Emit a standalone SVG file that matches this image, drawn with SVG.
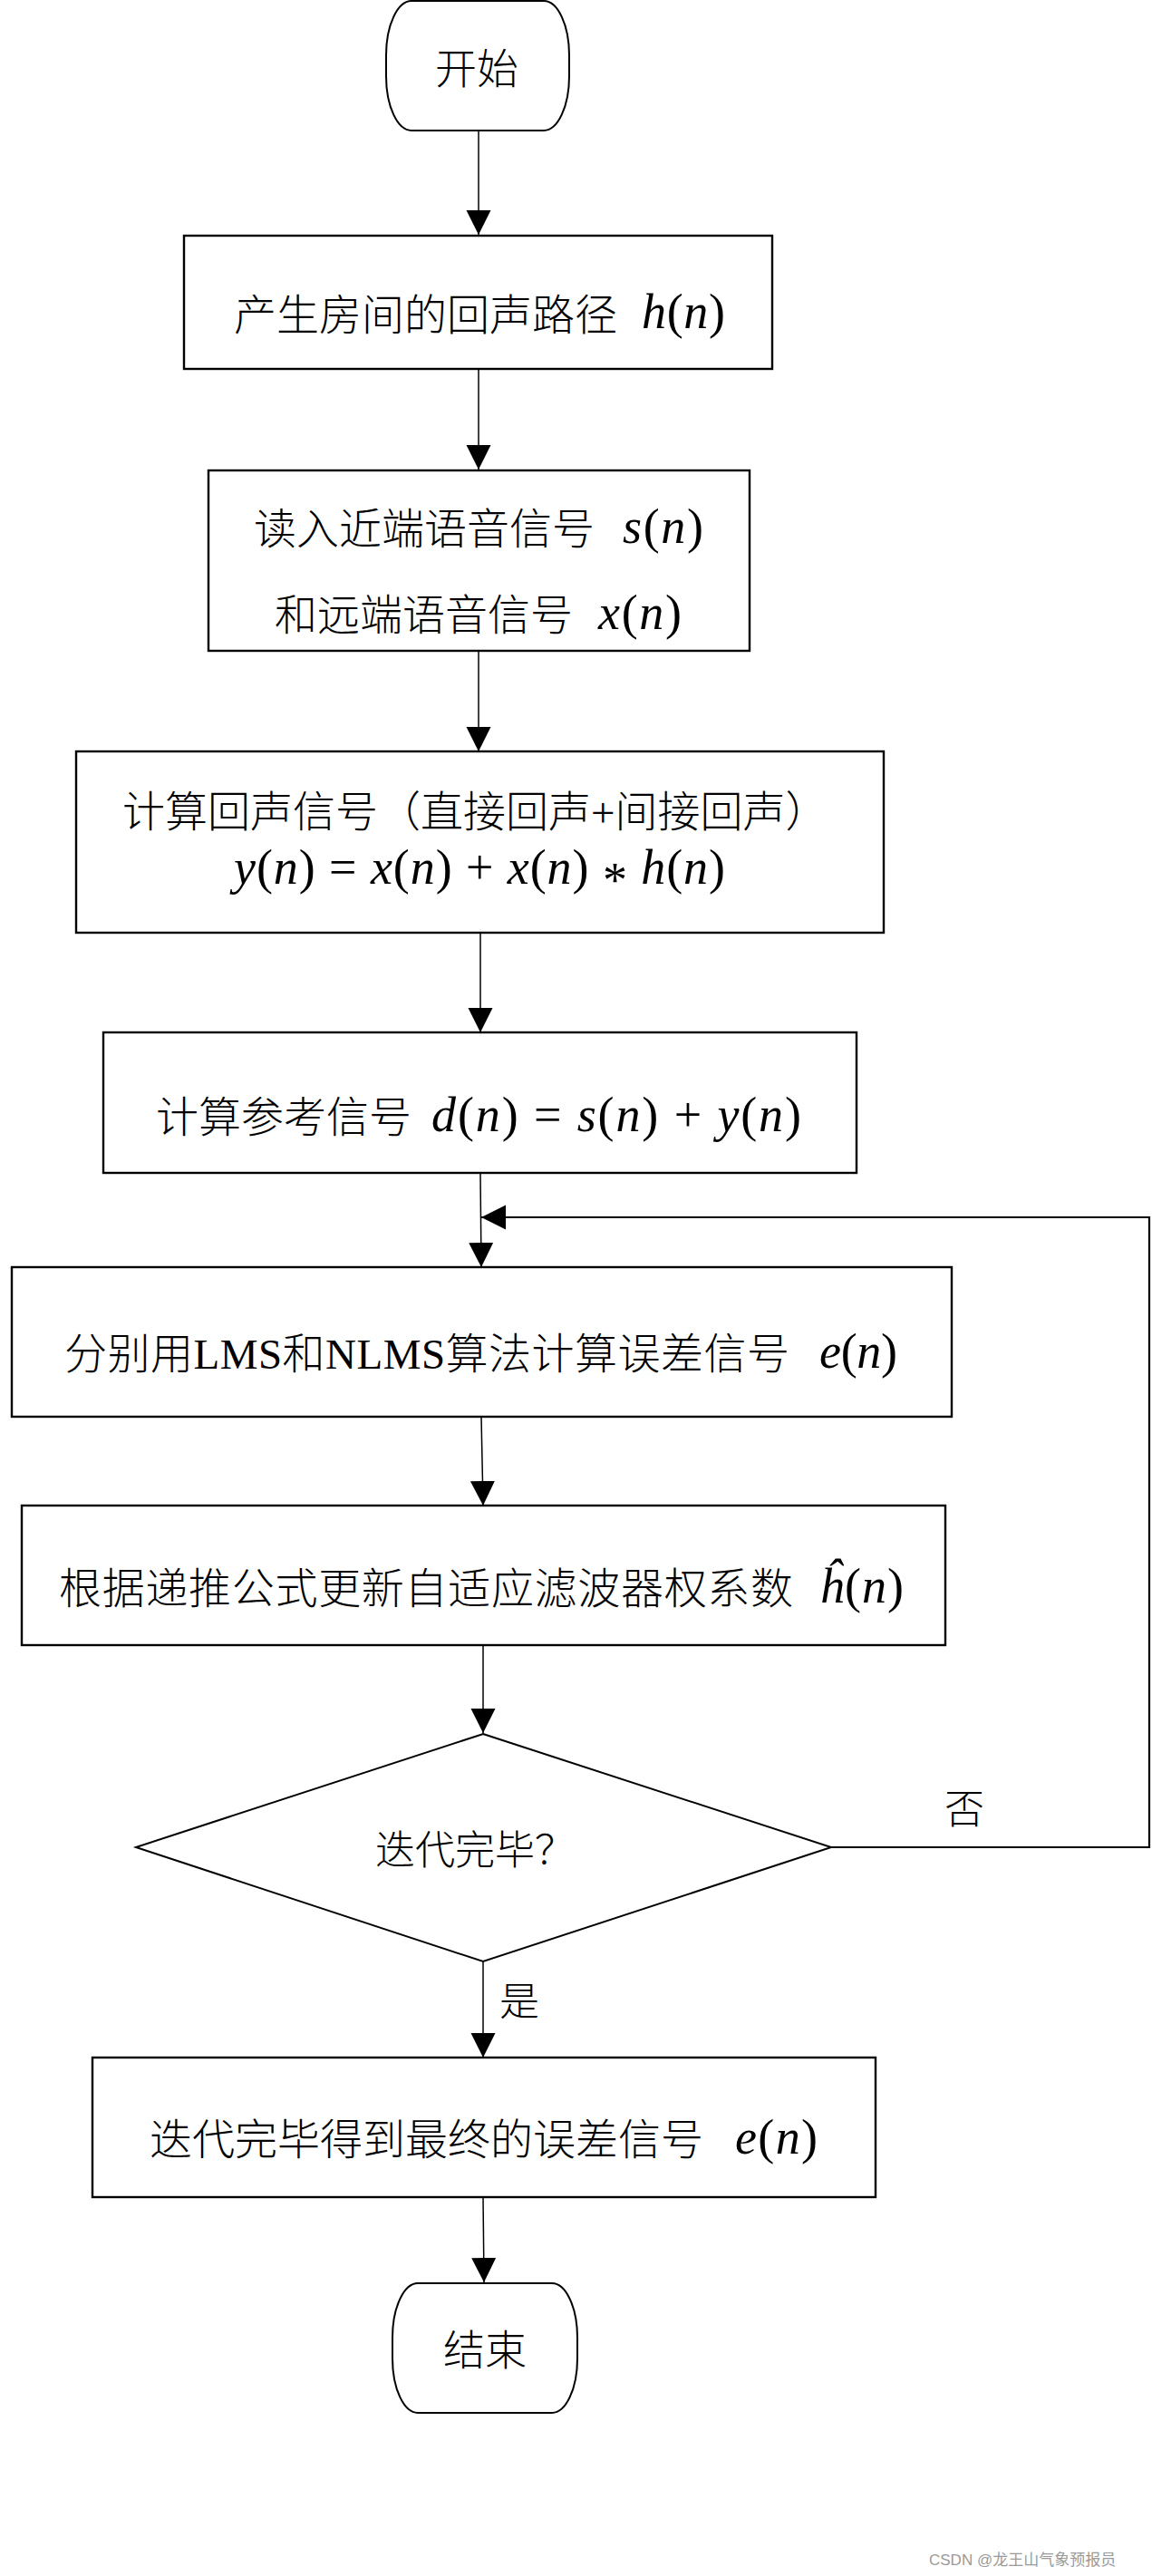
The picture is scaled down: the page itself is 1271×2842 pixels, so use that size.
<svg xmlns="http://www.w3.org/2000/svg" width="1271" height="2842" viewBox="0 0 1271 2842">
<style>
.box{fill:#fff;stroke:#000;stroke-width:2.4}
.term{fill:#fff;stroke:#000;stroke-width:2}
.con{fill:none;stroke:#000;stroke-width:1.5}
.loop{fill:none;stroke:#000;stroke-width:2.2}
.t{font-family:"Liberation Serif","Noto Sans CJK SC",serif;font-size:47px;font-weight:300;fill:#000}
.m{font-family:"Liberation Serif",serif;font-size:54px;fill:#000}
.i{font-style:italic}
.wm{font-family:"Liberation Sans","Noto Sans CJK SC",sans-serif;font-size:17px;fill:#9a9a9a}
</style>
<defs>
<marker id="arr" markerUnits="userSpaceOnUse" markerWidth="28" markerHeight="28" refX="27" refY="13.5" orient="auto">
<path d="M0,0 L27,13.5 L0,27 Z" fill="#000"/>
</marker>
</defs>
<rect width="1271" height="2842" fill="#fff"/>

<g id="connectors">
<line class="con" x1="528" y1="145" x2="528" y2="259" marker-end="url(#arr)"/>
<line class="con" x1="528" y1="408" x2="528" y2="518" marker-end="url(#arr)"/>
<line class="con" x1="528" y1="718" x2="528" y2="829" marker-end="url(#arr)"/>
<line class="con" x1="530" y1="1030" x2="530" y2="1139" marker-end="url(#arr)"/>
<line class="con" x1="530" y1="1295" x2="531" y2="1398" marker-end="url(#arr)"/>
<line class="con" x1="531" y1="1563" x2="533" y2="1661" marker-end="url(#arr)"/>
<line class="con" x1="533" y1="1815" x2="533" y2="1912" marker-end="url(#arr)"/>
<line class="con" x1="533" y1="2164" x2="533" y2="2270" marker-end="url(#arr)"/>
<line class="con" x1="533" y1="2424" x2="534" y2="2518" marker-end="url(#arr)"/>
<polyline class="loop" points="917,2038 1268,2038 1268,1343 531,1343" marker-end="url(#arr)"/>
<text class="t" x="1042" y="2012" style="font-size:44px">否</text>
<text class="t" x="551" y="2224" style="font-size:44px">是</text>
</g>

<g id="start">
<rect class="term" x="426" y="1" width="202" height="143" rx="28" ry="60"/>
<text class="t" x="480" y="92" style="font-size:46px">开始</text>
</g>

<g id="box1">
<rect class="box" x="203" y="260" width="649" height="147"/>
<text class="t" x="258" y="364">产生房间的回声路径</text>
<text class="m" x="708" y="362" textLength="92" lengthAdjust="spacing"><tspan class="i">h</tspan>(<tspan class="i">n</tspan>)</text>
</g>

<g id="box2">
<rect class="box" x="230" y="519" width="597" height="199"/>
<text class="t" x="280" y="600">读入近端语音信号</text>
<text class="m" x="687" y="599" textLength="89" lengthAdjust="spacing"><tspan class="i">s</tspan>(<tspan class="i">n</tspan>)</text>
<text class="t" x="303" y="695">和远端语音信号</text>
<text class="m" x="660" y="694" textLength="92" lengthAdjust="spacing"><tspan class="i">x</tspan>(<tspan class="i">n</tspan>)</text>
</g>

<g id="box3">
<rect class="box" x="84" y="829" width="891" height="200"/>
<text class="t" x="135" y="912">计算回声信号（直接回声+间接回声）</text>
<text class="m" x="258" y="975" textLength="542" lengthAdjust="spacing"><tspan class="i">y</tspan>(<tspan class="i">n</tspan>) = <tspan class="i">x</tspan>(<tspan class="i">n</tspan>) + <tspan class="i">x</tspan>(<tspan class="i">n</tspan>) <tspan dy="14">*</tspan> <tspan dy="-14" class="i">h</tspan>(<tspan class="i">n</tspan>)</text>
</g>

<g id="box4">
<rect class="box" x="114" y="1139" width="831" height="155"/>
<text class="t" x="172" y="1249">计算参考信号</text>
<text class="m" x="476" y="1248" textLength="408" lengthAdjust="spacing"><tspan class="i">d</tspan>(<tspan class="i">n</tspan>) = <tspan class="i">s</tspan>(<tspan class="i">n</tspan>) + <tspan class="i">y</tspan>(<tspan class="i">n</tspan>)</text>
</g>

<g id="box5">
<rect class="box" x="13" y="1398" width="1037" height="165"/>
<text class="t" x="71" y="1510" textLength="800" lengthAdjust="spacing">分别用LMS和NLMS算法计算误差信号</text>
<text class="m" x="904" y="1509" textLength="86" lengthAdjust="spacing"><tspan class="i">e</tspan>(<tspan class="i">n</tspan>)</text>
</g>

<g id="box6">
<rect class="box" x="24" y="1661" width="1019" height="154"/>
<text class="t" x="65" y="1769" textLength="810" lengthAdjust="spacing">根据递推公式更新自适应滤波器权系数</text>
<text class="m" x="904" y="1768" textLength="93" lengthAdjust="spacing"><tspan class="i">ĥ</tspan>(<tspan class="i">n</tspan>)</text>
</g>

<g id="decision">
<polygon class="box" points="533,1913 917,2038 533,2164 150,2038" style="stroke-width:2"/>
<text class="t" x="414" y="2057" style="font-size:44px">迭代完毕？</text>
</g>

<g id="box7">
<rect class="box" x="102" y="2270" width="864" height="154"/>
<text class="t" x="165" y="2377">迭代完毕得到最终的误差信号</text>
<text class="m" x="811" y="2376" textLength="91" lengthAdjust="spacing"><tspan class="i">e</tspan>(<tspan class="i">n</tspan>)</text>
</g>

<g id="end">
<rect class="term" x="433" y="2519" width="204" height="143" rx="28" ry="60"/>
<text class="t" x="489" y="2609" style="font-size:46px">结束</text>
</g>

<text class="wm" x="1025" y="2830">CSDN @龙王山气象预报员</text>
</svg>
